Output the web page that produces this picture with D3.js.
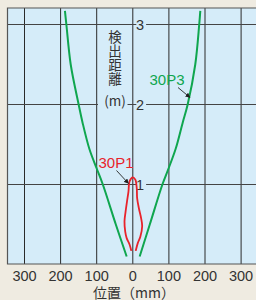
<!DOCTYPE html>
<html>
<head>
<meta charset="utf-8">
<script src="https://cdn.jsdelivr.net/npm/d3@7"></script>
<style>
  html, body { margin: 0; padding: 0; background: #efebe1; }
  svg { display: block; }
  text { font-family: "Liberation Sans", Arial, sans-serif; fill: #333; }
  .jp { font-family: "Noto Sans CJK JP", sans-serif; }
</style>
</head>
<body>
<div id="chart"></div>
<script>
// detection distance (m) vs position (mm)
const xTicks = [-300, -200, -100, 0, 100, 200, 300];
const yTicks = [1, 2, 3];

// 30P3 : wide pattern, each branch read from bottom to top
const p3Left = [[-17, 0.1], [-47, 0.5], [-83, 1.0], [-100, 1.2], [-120, 1.44], [-139, 1.77], [-150, 2.0], [-172, 2.5], [-184, 3.0], [-188, 3.17]];
const p3Right = [[19, 0.1], [47, 0.5], [82, 1.0], [99, 1.2], [119, 1.45], [138, 1.77], [152, 2.0], [173, 2.5], [184, 3.0], [187, 3.17]];

// 30P1 : narrow pattern, left end -> top -> right end
const p1 = [[-4, 0.17], [-9, 0.25], [-17, 0.33], [-21, 0.41], [-23, 0.54], [-20, 0.66], [-16, 0.79], [-12, 0.91], [-9, 1.04], [0, 1.09],
            [7, 1.06], [11, 0.95], [12, 0.83], [17, 0.70], [23, 0.58], [26, 0.48], [21, 0.35], [14, 0.27], [8, 0.17]];

const W = 256, H = 300;
const BLUE = '#d5ecf9', GREEN = '#0fa64f', RED = '#e8232b';

const svg = d3.select('#chart').append('svg')
    .attr('width', W).attr('height', H);

const x = d3.scaleLinear().domain([-300, 300]).range([24.5, 241.1]);
const y = d3.scaleLinear().domain([0, 3]).range([264.5, 24.5]);

const plot = {left: 7.5, top: 8, right: W, bottom: 264};

svg.append('rect')
    .attr('x', plot.left).attr('y', plot.top)
    .attr('width', plot.right - plot.left).attr('height', plot.bottom - plot.top)
    .attr('fill', BLUE);

// grid
svg.append('g').selectAll('line')
    .data(xTicks)
    .join('line')
    .attr('x1', d => x(d)).attr('x2', d => x(d))
    .attr('y1', plot.top).attr('y2', plot.bottom)
    .attr('stroke', '#2a2a2a').attr('stroke-width', 1);

svg.append('g').selectAll('line')
    .data(yTicks)
    .join('line')
    .attr('x1', plot.left).attr('x2', plot.right)
    .attr('y1', d => y(d)).attr('y2', d => y(d))
    .attr('stroke', '#444').attr('stroke-width', 1.2);

// frame (left, top, bottom)
svg.append('path')
    .attr('d', `M${plot.right},${plot.top}H${plot.left}V${plot.bottom}H${plot.right}`)
    .attr('fill', 'none').attr('stroke', '#555').attr('stroke-width', 1.2);

// y tick labels on the centre line
const yLab = svg.append('g').selectAll('g')
    .data(yTicks)
    .join('g')
    .attr('transform', d => `translate(${x(0) + 7.3},${y(d)})`);
yLab.append('rect')
    .attr('x', -3.8).attr('y', -6).attr('width', 9.8).attr('height', 12)
    .attr('fill', BLUE);
yLab.append('text')
    .attr('text-anchor', 'middle').attr('dy', '0.36em')
    .style('font-size', '14.5px')
    .text(d => d);

// y axis title (vertical)
svg.append('rect')
    .attr('x', 98).attr('y', 28).attr('width', 29.5).attr('height', 82)
    .attr('fill', BLUE);
svg.append('text')
    .attr('class', 'jp')
    .attr('x', 115).attr('y', 30.5)
    .style('writing-mode', 'vertical-rl')
    .style('font-size', '13.5px')
    .style('letter-spacing', '0.5px')
    .text('検出距離');
svg.append('text')
    .attr('class', 'jp')
    .attr('x', 115).attr('y', 101)
    .attr('text-anchor', 'middle').attr('dy', '0.36em')
    .style('font-size', '13.5px')
    .text('(m)');

// x tick labels
svg.append('g').selectAll('text')
    .data(xTicks)
    .join('text')
    .attr('x', d => x(d)).attr('y', 281)
    .attr('text-anchor', 'middle')
    .style('font-size', '14.5px')
    .text(d => Math.abs(d));

svg.append('text')
    .attr('class', 'jp')
    .attr('x', 134).attr('y', 297.5)
    .attr('text-anchor', 'middle')
    .style('font-size', '14px')
    .text('位置（mm）');

// curves
const line = d3.line()
    .x(d => x(d[0]))
    .y(d => y(d[1]))
    .curve(d3.curveCatmullRom);

[p3Left, p3Right].forEach(s => {
    svg.append('path')
        .datum(s)
        .attr('d', line)
        .attr('fill', 'none')
        .attr('stroke', GREEN)
        .attr('stroke-width', 2);
});

svg.append('path')
    .datum(p1)
    .attr('d', line)
    .attr('fill', 'none')
    .attr('stroke', RED)
    .attr('stroke-width', 1.8);

// series labels with arrows
svg.append('defs').append('marker')
    .attr('id', 'head')
    .attr('viewBox', '0 0 10 10')
    .attr('refX', 9).attr('refY', 5)
    .attr('markerWidth', 5).attr('markerHeight', 5)
    .attr('markerUnits', 'userSpaceOnUse')
    .attr('orient', 'auto')
    .append('path')
    .attr('d', 'M0,0L10,5L0,10Z')
    .attr('fill', '#222');

const labels = [
    {text: '30P3', color: GREEN, tx: 167, ty: 85, from: [178, 87.5], to: [190, 97.5]},
    {text: '30P1', color: RED, tx: 116, ty: 168, from: [116.5, 170.5], to: [128.5, 183.5]}
];

labels.forEach(l => {
    svg.append('text')
        .attr('x', l.tx).attr('y', l.ty)
        .attr('text-anchor', 'middle')
        .style('font-size', '15px')
        .style('fill', l.color)
        .text(l.text);
    svg.append('line')
        .attr('x1', l.from[0]).attr('y1', l.from[1])
        .attr('x2', l.to[0]).attr('y2', l.to[1])
        .attr('stroke', '#222').attr('stroke-width', 0.9)
        .attr('marker-end', 'url(#head)');
});
</script>
</body>
</html>
